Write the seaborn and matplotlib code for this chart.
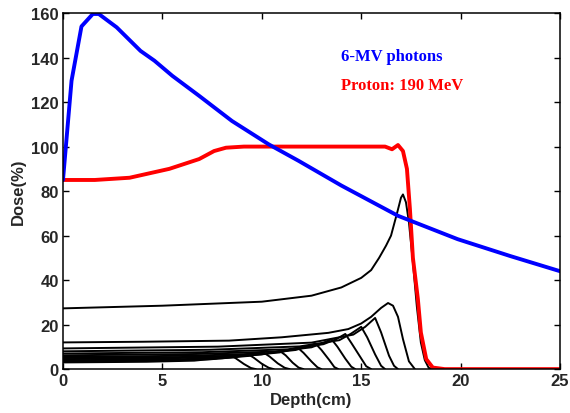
import matplotlib
matplotlib.use("Agg")
import matplotlib.pyplot as plt
import seaborn as sns

# 6-MV photon depth dose
photon_depth = [0, 0.43, 0.93, 1.5, 1.8, 2.7, 3.9, 4.6, 5.5, 6.85, 8.5, 10.35,
                11.85, 14.0, 16.85, 19.85, 22.5, 25]
photon_dose = [85, 129.6, 154, 159.6, 159.6, 153.6, 143, 138.6, 131.8, 122.8, 111.5, 101,
               93.6, 82.5, 68.9, 58.4, 50.8, 44]

# 190 MeV proton spread-out Bragg peak
sobp_depth = [0, 1.6, 3.35, 5.35, 6.85, 7.6, 8.2, 9.1, 12, 16.2, 16.55, 16.85, 17.1,
              17.3, 17.45, 17.6, 17.85, 18.0, 18.27, 18.6, 19.2, 25]
sobp_dose = [85, 85, 86, 90, 94.4, 98, 99.5, 100, 100, 100, 98.8, 100.7, 98,
             90, 72, 50, 31.5, 16.5, 4.5, 0.7, 0, 0]

# individual (weighted) pristine Bragg peaks
pristine_depths = [
    [0, 4.2, 6.6, 7.7, 8.1, 8.4, 8.7, 9.1, 9.45, 9.7],
    [0, 4.6, 7.4, 8.6, 9.0, 9.3, 9.6, 10.0, 10.35, 10.6],
    [0, 5.0, 8.0, 9.3, 9.75, 10.1, 10.4, 10.8, 11.15, 11.4],
    [0, 5.4, 8.6, 10.0, 10.5, 10.9, 11.2, 11.55, 11.85, 12.1],
    [0, 5.8, 9.4, 10.9, 11.4, 11.8, 12.1, 12.5, 12.8, 13.0],
    [0, 6.3, 10.1, 11.7, 12.25, 12.7, 13.0, 13.4, 13.65, 13.85],
    [0, 6.7, 10.7, 12.5, 13.05, 13.5, 13.8, 14.2, 14.5, 14.7],
    [0, 7.0, 11.3, 13.1, 13.75, 14.2, 14.5, 14.95, 15.25, 15.5],
    [0, 7.4, 11.9, 13.9, 14.5, 15.0, 15.3, 15.7, 16.0, 16.2],
    [0, 7.8, 12.5, 14.6, 15.2, 15.7, 16.0, 16.4, 16.65, 16.85],
    [0, 4, 8.35, 11, 13.35, 14.35, 15.0, 15.5, 16.0, 16.35, 16.6, 16.85, 17.1, 17.4, 17.7],
    [0, 5, 10, 12.5, 14, 15, 15.5, 15.9, 16.25, 16.5, 16.8, 17.0, 17.1, 17.25, 17.4, 17.6,
     17.8, 18.0, 18.2, 18.4, 18.8],
]
pristine_doses = [
    [3.0, 3.3, 3.8, 4.8, 5.7, 6.3, 4.8, 2.3, 0.5, 0],
    [3.5, 3.8, 4.4, 5.3, 6.1, 6.8, 5.1, 2.4, 0.6, 0],
    [4.0, 4.3, 4.9, 5.9, 6.7, 7.4, 5.6, 2.6, 0.6, 0],
    [4.5, 4.9, 5.6, 6.6, 7.4, 8.2, 6.2, 2.9, 0.7, 0],
    [5.0, 5.4, 6.2, 7.5, 8.6, 9.7, 7.3, 3.4, 0.8, 0],
    [5.5, 6.0, 7.0, 8.6, 10.0, 11.5, 8.6, 4.0, 0.9, 0],
    [6.2, 6.8, 7.9, 9.8, 11.6, 13.5, 10.1, 4.7, 1.1, 0],
    [7.0, 7.6, 8.9, 11.2, 13.5, 15.8, 11.8, 5.5, 1.3, 0],
    [8.0, 8.7, 10.2, 13.0, 16.0, 19.0, 14.3, 6.6, 1.5, 0],
    [9.3, 10.1, 11.9, 15.5, 19.0, 23.0, 16.5, 6.0, 1.5, 0],
    [12, 12.3, 12.8, 14.3, 16.3, 18, 20.5, 23.5, 27.5, 29.7, 28.5, 23.5, 13.5, 3.5, 0],
    [27.3, 28.5, 30.3, 33, 36.7, 41, 44.5, 50, 55.5, 60, 70, 77, 78.5, 75, 66, 48,
     28, 12, 4, 0.5, 0],
]

sns.set_theme(style="ticks")
plt.rcParams["font.family"] = ["Liberation Sans", "DejaVu Sans"]

fig = plt.figure(figsize=(5.7, 4.14), dpi=100)
ax = fig.add_axes([0.1105, 0.106, 0.872, 0.86])

for d, v in zip(pristine_depths, pristine_doses):
    sns.lineplot(x=d, y=v, color="black", linewidth=1.4, sort=False, ax=ax)

sns.lineplot(x=sobp_depth, y=sobp_dose, color="#ff0000", linewidth=2.8, sort=False, ax=ax)
sns.lineplot(x=photon_depth, y=photon_dose, color="#0000ff", linewidth=2.8, sort=False, ax=ax)

ax.text(14.0, 140.7, "6-MV photons", color="#0000ff", fontsize=12, fontweight="bold",
        family="Liberation Serif", ha="left", va="center")
ax.text(14.0, 127.6, "Proton: 190 MeV", color="#ff0000", fontsize=12, fontweight="bold",
        family="Liberation Serif", ha="left", va="center")

ax.set_xlim(0, 25)
ax.set_ylim(0, 160)
ax.set_xticks([0, 5, 10, 15, 20, 25])
ax.set_yticks([0, 20, 40, 60, 80, 100, 120, 140, 160])
ax.tick_params(direction="in", top=True, right=True, length=4, width=1,
               labelsize=12, color="black", pad=3)
for lbl in ax.get_xticklabels() + ax.get_yticklabels():
    lbl.set_fontweight("bold")
for s in ax.spines.values():
    s.set_linewidth(1.1)
    s.set_color("black")

ax.set_xlabel("Depth(cm)", fontsize=12, fontweight="bold", labelpad=3)
ax.set_ylabel("Dose(%)", fontsize=12, fontweight="bold", labelpad=4)

fig.savefig("out.png", dpi=100)
